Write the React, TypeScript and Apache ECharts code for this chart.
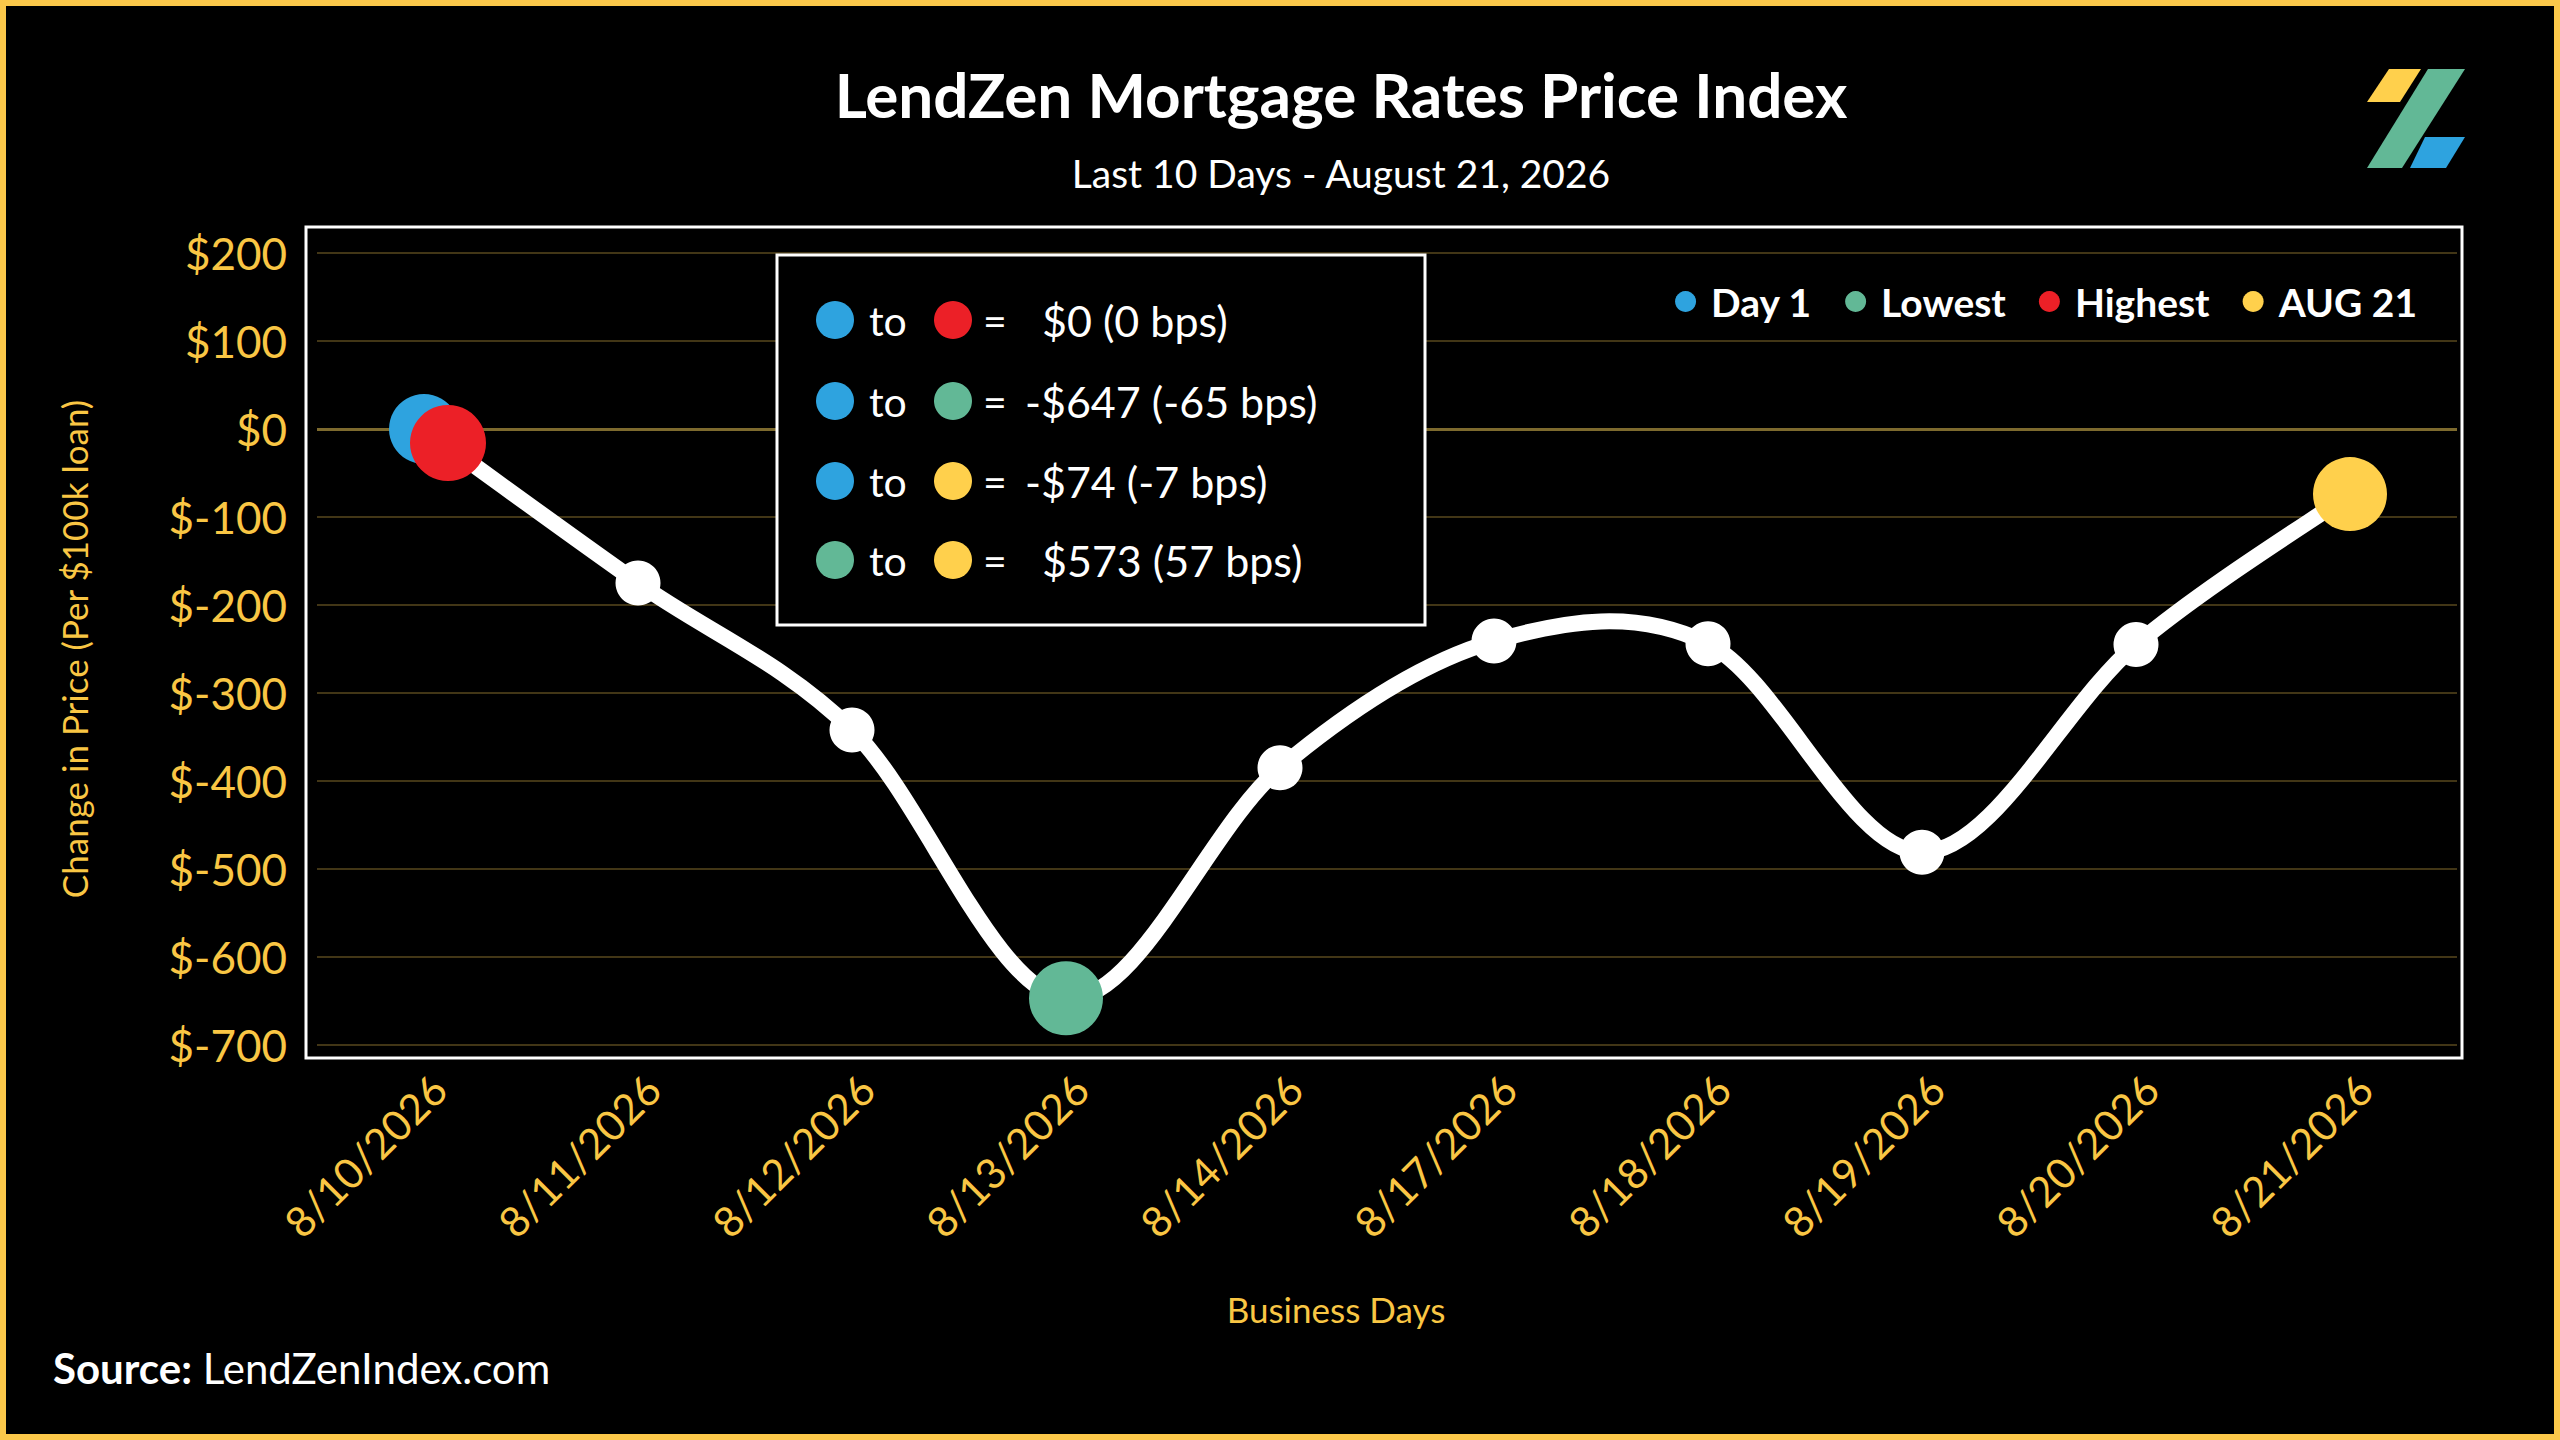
import React, { useEffect, useRef } from "react";
import * as echarts from "echarts";

const categories = [
  "8/10/2026",
  "8/11/2026",
  "8/12/2026",
  "8/13/2026",
  "8/14/2026",
  "8/17/2026",
  "8/18/2026",
  "8/19/2026",
  "8/20/2026",
  "8/21/2026",
];
const priceChange = [0, -175, -342, -647, -385, -241, -244, -481, -245, -74];
const yMin = -700;
const yMax = 200;
const yStep = 100;
const legendNames = ["Day 1", "Lowest", "Highest", "AUG 21"];

const BLUE = "#2EA3DF";
const GREEN = "#62B896";
const RED = "#EC2027";
const YELLOW = "#FFD04C";
const AXIS_YELLOW = "#F9C644";
const FONT = "Lato, 'Noto Sans', sans-serif";

export default function App() {
  const ref = useRef<HTMLDivElement>(null);

  useEffect(() => {
    document.body.style.margin = "0";
    document.body.style.background = "#000";
    if (!ref.current) return;
    const chart = echarts.init(ref.current, undefined, { renderer: "svg" });

    const n = priceChange.length;
    const dayIdx = 0;
    const lastIdx = n - 1;
    const lowVal = Math.min(...priceChange);
    const highVal = Math.max(...priceChange);
    const lowIdx = priceChange.indexOf(lowVal);
    const highIdx = priceChange.indexOf(highVal);
    const dayVal = priceChange[dayIdx];
    const lastVal = priceChange[lastIdx];

    const fmt = (v: number) => (v < 0 ? "-$" + Math.abs(v) : "$" + v);
    const bps = (v: number) => {
      const b = Math.round(v / 10);
      return b === 0 ? 0 : b;
    };
    const rows: [string, string, number][] = [
      [BLUE, RED, highVal - dayVal],
      [BLUE, GREEN, lowVal - dayVal],
      [BLUE, YELLOW, lastVal - dayVal],
      [GREEN, YELLOW, lastVal - lowVal],
    ];
    const rowY = [320, 401, 481, 560];

    const boxElements: any[] = [
      {
        type: "rect",
        z: 10,
        shape: { x: 777, y: 255, width: 648, height: 370 },
        style: { fill: "#000", stroke: "#fff", lineWidth: 3 },
      },
    ];
    rows.forEach((r, i) => {
      const y = rowY[i];
      boxElements.push(
        { type: "circle", z: 11, shape: { cx: 835, cy: y, r: 19 }, style: { fill: r[0] } },
        {
          type: "text",
          z: 11,
          x: 869,
          y,
          style: { text: "to", fill: "#fff", fontSize: 41, fontFamily: FONT, verticalAlign: "middle" },
        },
        { type: "circle", z: 11, shape: { cx: 953, cy: y, r: 19 }, style: { fill: r[1] } },
        {
          type: "text",
          z: 11,
          x: 983,
          y,
          style: { text: "=", fill: "#fff", fontSize: 41, fontFamily: FONT, verticalAlign: "middle" },
        },
        {
          type: "text",
          z: 11,
          x: r[2] < 0 ? 1025 : 1042,
          y,
          style: {
            text: `${fmt(r[2])} (${bps(r[2])} bps)`,
            fill: "#fff",
            fontSize: 43,
            fontFamily: FONT,
            verticalAlign: "middle",
          },
        }
      );
    });

    // Catmull-Rom style smoothed curve through the data points (allows overshoot)
    const renderCurve = (params: any, api: any) => {
      const i = params.dataIndex;
      if (i >= n - 1) return null;
      const pt = (k: number) => {
        const kk = Math.max(0, Math.min(n - 1, k));
        return api.coord([kk, priceChange[kk]]);
      };
      const p0 = pt(i - 1);
      const p1 = pt(i);
      const p2 = pt(i + 1);
      const p3 = pt(i + 2);
      const c1 = [p1[0] + (p2[0] - p0[0]) / 6, p1[1] + (p2[1] - p0[1]) / 6];
      const c2 = [p2[0] - (p3[0] - p1[0]) / 6, p2[1] - (p3[1] - p1[1]) / 6];
      return {
        type: "path",
        shape: {
          pathData: `M${p1[0]} ${p1[1]} C${c1[0]} ${c1[1]} ${c2[0]} ${c2[1]} ${p2[0]} ${p2[1]}`,
        },
        style: { fill: "none", stroke: "#fff", lineWidth: 16, lineCap: "round" },
      };
    };

    const option: any = {
      animation: false,
      backgroundColor: "#000",
      title: [
        {
          text: "LendZen Mortgage Rates Price Index",
          left: 1336,
          top: 58,
          textAlign: "center",
          textStyle: { color: "#fff", fontSize: 62, fontWeight: "bold", fontFamily: FONT },
        },
        {
          text: "Last 10 Days - August 21, 2026",
          left: 1336,
          top: 148,
          textAlign: "center",
          textStyle: { color: "#fff", fontSize: 39, fontWeight: "normal", fontFamily: FONT },
        },
      ],
      legend: {
        data: legendNames,
        right: 143,
        top: 282,
        icon: "circle",
        itemWidth: 21,
        itemHeight: 21,
        itemGap: 33,
        selectedMode: false,
        padding: 0,
        textStyle: {
          color: "#fff",
          fontSize: 39,
          fontWeight: "bold",
          fontFamily: FONT,
          padding: [0, 0, 0, 10],
        },
      },
      grid: { left: 317, right: 103, top: 253, bottom: 395 },
      xAxis: {
        type: "category",
        data: categories,
        boundaryGap: true,
        name: "Business Days",
        nameLocation: "middle",
        nameGap: 246,
        nameTextStyle: {
          color: AXIS_YELLOW,
          fontSize: 35,
          fontFamily: FONT,
          padding: [0, 102, 0, 0],
        },
        axisLine: { show: false },
        axisTick: { show: false },
        axisLabel: {
          interval: 0,
          rotate: 45,
          margin: 22,
          verticalAlign: "top",
          color: AXIS_YELLOW,
          fontSize: 42,
          fontFamily: FONT,
        },
      },
      yAxis: {
        type: "value",
        min: yMin,
        max: yMax,
        interval: yStep,
        name: "Change in Price (Per $100k loan)",
        nameLocation: "middle",
        nameGap: 226,
        nameTextStyle: { color: AXIS_YELLOW, fontSize: 35, fontFamily: FONT },
        axisLine: { show: false },
        axisTick: { show: false },
        axisLabel: {
          margin: 30,
          color: AXIS_YELLOW,
          fontSize: 44,
          fontFamily: FONT,
          formatter: (v: number) => "$" + v,
        },
        splitLine: { lineStyle: { color: "#423616", width: 2 } },
      },
      series: [
        {
          name: "Price Curve",
          type: "custom",
          data: priceChange.map((v, i) => [i, v]),
          encode: { x: 0, y: 1 },
          renderItem: renderCurve,
          silent: true,
          z: 2,
          markLine: {
            silent: true,
            symbol: "none",
            label: { show: false },
            lineStyle: { color: "#7d6a2e", width: 3, type: "solid" },
            data: [{ yAxis: 0 }],
            z: 1,
          },
        },
        {
          name: "Price Index",
          type: "line",
          data: priceChange,
          smooth: false,
          symbol: "circle",
          symbolSize: 45,
          showSymbol: true,
          lineStyle: { width: 0, opacity: 0 },
          itemStyle: { color: "#fff" },
          z: 3,
        },
        {
          name: legendNames[0],
          type: "scatter",
          data: [[dayIdx, dayVal]],
          symbol: "circle",
          symbolSize: 70,
          itemStyle: { color: BLUE, opacity: 1 },
          z: 5,
        },
        {
          name: legendNames[1],
          type: "scatter",
          data: [[lowIdx, lowVal]],
          symbol: "circle",
          symbolSize: 74,
          itemStyle: { color: GREEN, opacity: 1 },
          z: 5,
        },
        {
          name: legendNames[2],
          type: "scatter",
          data: [[highIdx, highVal]],
          symbol: "circle",
          symbolSize: 76,
          symbolOffset: [24, 14],
          itemStyle: { color: RED, opacity: 1 },
          z: 6,
        },
        {
          name: legendNames[3],
          type: "scatter",
          data: [[lastIdx, lastVal]],
          symbol: "circle",
          symbolSize: 74,
          itemStyle: { color: YELLOW, opacity: 1 },
          z: 5,
        },
      ],
      graphic: [
        {
          type: "rect",
          z: 1,
          silent: true,
          shape: { x: 306, y: 227, width: 2156, height: 831 },
          style: { fill: "none", stroke: "#fff", lineWidth: 3 },
        },
        ...boxElements,
        {
          type: "polygon",
          z: 11,
          shape: { points: [[2367, 102], [2389, 69], [2421, 69], [2400, 102]] },
          style: { fill: YELLOW },
        },
        {
          type: "polygon",
          z: 11,
          shape: { points: [[2428, 69], [2465, 69], [2402, 168], [2367, 168]] },
          style: { fill: GREEN },
        },
        {
          type: "polygon",
          z: 11,
          shape: { points: [[2425, 137], [2465, 137], [2446, 168], [2410, 168]] },
          style: { fill: BLUE },
        },
        {
          type: "text",
          z: 11,
          x: 53,
          y: 1368,
          style: {
            text: "{b|Source:} LendZenIndex.com",
            fill: "#fff",
            fontSize: 42,
            fontFamily: FONT,
            verticalAlign: "middle",
            rich: {
              b: { fill: "#fff", fontSize: 42, fontWeight: "bold", fontFamily: FONT },
            },
          },
        },
        {
          type: "rect",
          z: 20,
          silent: true,
          shape: { x: 3, y: 3, width: 2554, height: 1434 },
          style: { fill: "none", stroke: "#FBC84A", lineWidth: 6 },
        },
      ],
    };

    chart.setOption(option);
    return () => chart.dispose();
  }, []);

  return (
    <div
      ref={ref}
      style={{ position: "absolute", left: 0, top: 0, width: 2560, height: 1440 }}
    />
  );
}
